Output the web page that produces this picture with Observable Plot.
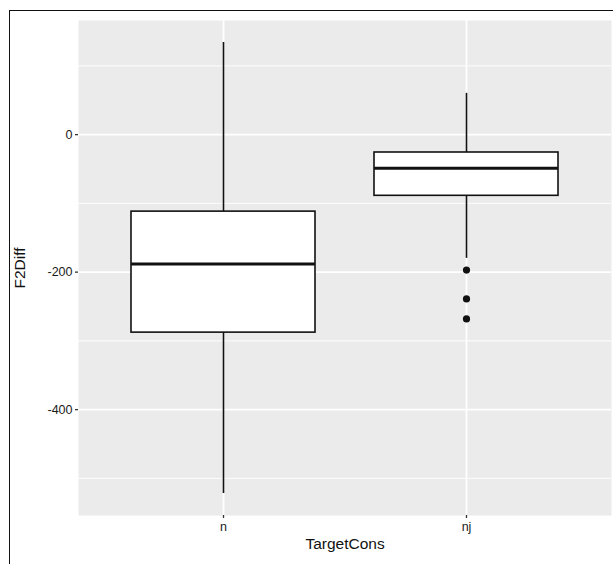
<!DOCTYPE html>
<html>
<head>
<meta charset="utf-8">
<script src="https://cdn.jsdelivr.net/npm/d3@7"></script>
<script src="https://cdn.jsdelivr.net/npm/@observablehq/plot@0.6"></script>
<style>
  html, body { margin: 0; padding: 0; background: #fff; overflow: hidden; }
  #wrap { position: relative; width: 613px; height: 564px; }
  #border { position: absolute; left: 9px; top: 10px; width: 640px; height: 640px; border: 1.5px solid #111; box-sizing: border-box; pointer-events: none; }
  svg { font-family: "Liberation Sans", Arial, sans-serif; }
</style>
</head>
<body>
<div id="wrap"><div id="border"></div></div>
<script>
const categories = ["n", "nj"];
const whiskerLow = [-522, -180];
const q1 = [-288, -89];
const median = [-188, -49];
const q3 = [-112, -26];
const whiskerHigh = [134, 60];
const outlierCat = ["nj", "nj", "nj"];
const outlierVal = [-197, -239, -268];
const majorTicks = [-400, -200, 0];
const minorTicks = [-500, -300, -100, 100];

const boxes = categories.map((c, i) => ({
  cat: c, lo: whiskerLow[i], q1: q1[i], med: median[i], q3: q3[i], hi: whiskerHigh[i]
}));
const outliers = outlierCat.map((c, i) => ({cat: c, v: outlierVal[i]}));

const chart = Plot.plot({
  width: 613,
  height: 564,
  marginLeft: 78,
  marginRight: 2,
  marginTop: 20,
  marginBottom: 49,
  style: {fontFamily: "Liberation Sans, Arial, sans-serif", background: "transparent"},
  x: {type: "band", domain: categories, paddingInner: 0.243, paddingOuter: 0.218, label: null},
  y: {domain: [-554, 166], label: null},
  marks: [
    Plot.frame({fill: "#ebebeb", stroke: null}),
    Plot.ruleY(minorTicks, {stroke: "#fff", strokeWidth: 0.9}),
    Plot.ruleY(majorTicks, {stroke: "#fff", strokeWidth: 1.8}),
    Plot.ruleX(categories, {x: d => d, stroke: "#fff", strokeWidth: 1.8}),
    Plot.ruleX(boxes, {x: "cat", y1: "lo", y2: "hi", stroke: "#111", strokeWidth: 1.6}),
    Plot.barY(boxes, {x: "cat", y1: "q1", y2: "q3", fill: "#fff", stroke: "#111", strokeWidth: 1.6}),
    Plot.tickY(boxes, {x: "cat", y: "med", stroke: "#111", strokeWidth: 3}),
    Plot.dot(outliers, {x: "cat", y: "v", r: 3.6, fill: "#111", stroke: null}),
    Plot.axisY(majorTicks, {tickSize: 3, tickPadding: 3, fontSize: 12.5, color: "#1a1a1a", stroke: "#333", strokeWidth: 1.3, label: null, tickFormat: d => String(d)}),
    Plot.axisX(categories, {tickSize: 3, tickPadding: 4, fontSize: 12.5, color: "#1a1a1a", stroke: "#333", strokeWidth: 1.3, label: null}),
    Plot.text(["F2Diff"], {frameAnchor: "left", dx: -58, rotate: -90, fontSize: 15.5, fill: "#111", textAnchor: "middle"}),
    Plot.text(["TargetCons"], {frameAnchor: "bottom", dy: 33, fontSize: 15.5, fill: "#111", textAnchor: "middle"})
  ]
});
document.getElementById("wrap").prepend(chart);
chart.style.position = "absolute";
chart.style.left = "0";
chart.style.top = "0";
</script>
</body>
</html>
